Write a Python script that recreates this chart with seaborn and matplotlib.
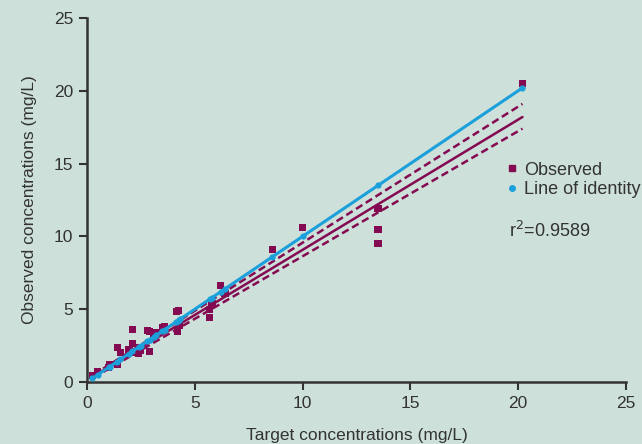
import matplotlib
matplotlib.use("Agg")
import matplotlib.pyplot as plt
import numpy as np
import pandas as pd
import seaborn as sns

# target vs observed concentrations (mg/L)
target = [0.25, 0.5, 0.5, 1.0, 1.05, 1.4, 1.4, 1.55, 1.95, 2.1, 2.1, 2.1,
          2.4, 2.4, 2.5, 2.8, 2.9, 2.9, 3.1, 3.2, 3.5, 3.6, 4.15, 4.2,
          4.25, 4.3, 5.7, 5.7, 5.8, 6.2, 6.4, 8.6, 10.0, 13.5, 13.5, 13.5, 20.2]
observed = [0.45, 0.6, 0.75, 1.0, 1.2, 1.2, 2.4, 2.0, 2.2, 3.6, 2.65, 2.0,
            2.4, 1.95, 2.2, 3.55, 2.1, 3.45, 3.3, 3.4, 3.75, 3.8, 4.85, 3.5,
            4.9, 3.9, 4.95, 4.45, 5.4, 6.6, 6.1, 9.1, 10.6, 11.9, 10.5, 9.5, 20.5]

# fitted line and its dashed limits (end points)
fit_x = [0.3, 20.2]
fit_y = [0.4, 18.2]
upper_y = [0.5, 19.1]
lower_y = [0.3, 17.4]

r2_label = "r$^2$=0.9589"

bg = "#cde0d9"
purple = "#840a52"
blue = "#1ba0dc"
dark = "#333333"

sns.set_theme(style="ticks")
plt.rcParams["font.family"] = ["Liberation Sans", "DejaVu Sans"]

fig = plt.figure(figsize=(6.42, 4.44), dpi=100, facecolor=bg)
ax = fig.add_axes([0.1355, 0.1396, 0.8395, 0.8199])
ax.set_facecolor(bg)

df = pd.DataFrame({"target": target, "observed": observed})
ident = pd.DataFrame({"x": sorted(set(target)), "y": sorted(set(target))})
fit = pd.DataFrame({"x": fit_x, "y": fit_y, "up": upper_y, "lo": lower_y})

sns.lineplot(data=fit, x="x", y="up", ax=ax, color=purple, lw=1.8,
             linestyle=(0, (3, 1.6)), zorder=2)
sns.lineplot(data=fit, x="x", y="lo", ax=ax, color=purple, lw=1.8,
             linestyle=(0, (3, 1.6)), zorder=2)
sns.lineplot(data=fit, x="x", y="y", ax=ax, color=purple, lw=1.8, zorder=2)
sns.scatterplot(data=df, x="target", y="observed", ax=ax, marker="s", s=26,
                color=purple, edgecolor="none", zorder=3)
sns.lineplot(data=ident, x="x", y="y", ax=ax, color=blue, lw=2.2,
             marker="o", markersize=4.5, markeredgewidth=0, zorder=4)

# legend handles: markers only
h_obs = plt.Line2D([], [], marker="s", color=purple, ls="none", ms=5)
h_id = plt.Line2D([], [], marker="o", color=blue, ls="none", ms=4)
ax.legend([h_obs, h_id], ["Observed", "Line of identity"], loc="upper left",
          bbox_to_anchor=(0.755, 0.625), frameon=False, fontsize=13,
          handletextpad=0.05, handlelength=1.2, labelspacing=0.12,
          borderaxespad=0, labelcolor=dark)
ax.text(0.783, 0.415, r2_label, transform=ax.transAxes, fontsize=13,
        color=dark, va="center", ha="left")

ax.set_xlim(0, 25)
ax.set_ylim(0, 25)
ax.set_xticks([0, 5, 10, 15, 20, 25])
ax.set_yticks([0, 5, 10, 15, 20, 25])
ax.set_xlabel("Target concentrations (mg/L)", fontsize=12.5, color=dark, labelpad=12)
ax.set_ylabel("Observed concentrations (mg/L)", fontsize=12.5, color=dark, labelpad=12)
ax.tick_params(axis="both", direction="out", length=6, width=1.5,
               color=dark, labelcolor=dark, labelsize=12.5, pad=4)
for side in ["top", "right"]:
    ax.spines[side].set_visible(False)
for side in ["left", "bottom"]:
    ax.spines[side].set_color(dark)
    ax.spines[side].set_linewidth(1.8)
ax.spines["left"].set_clip_on(False)
ax.spines["bottom"].set_clip_on(False)

fig.savefig("out.png", dpi=100, facecolor=bg)
